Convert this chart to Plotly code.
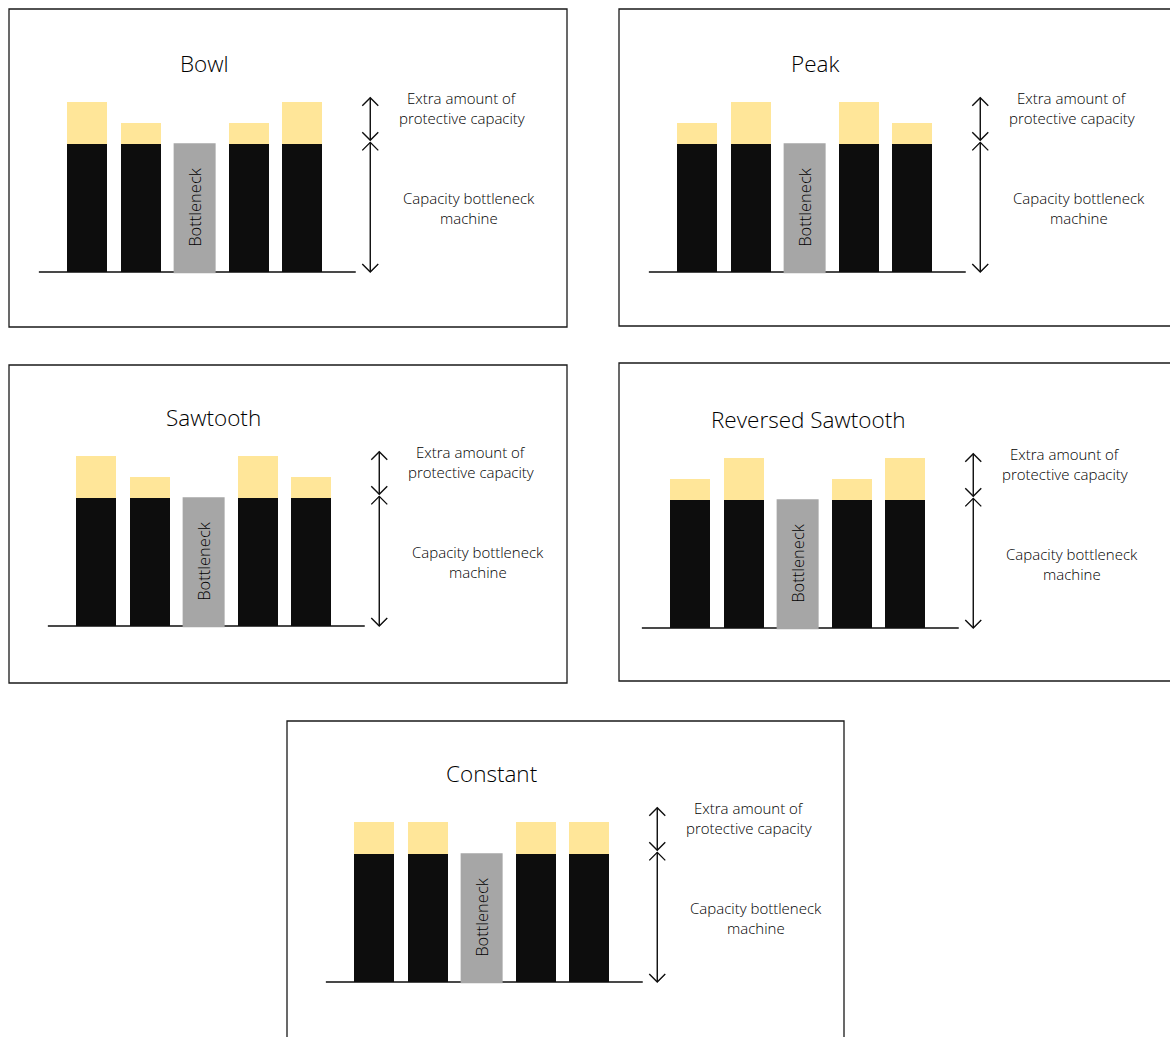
import plotly.graph_objects as go

# ---- data -------------------------------------------------------------
stations = ["Machine 1", "Machine 2", "Bottleneck", "Machine 4", "Machine 5"]
bottleneck_index = 2
bottleneck_capacity = 6.0

patterns = ["Bowl", "Peak", "Sawtooth", "Reversed Sawtooth", "Constant"]
extra_bowl = [2, 1, 0, 1, 2]
extra_peak = [1, 2, 0, 2, 1]
extra_sawtooth = [2, 1, 0, 2, 1]
extra_reversed_sawtooth = [1, 2, 0, 1, 2]
extra_constant = [1.5, 1.5, 0, 1.5, 1.5]
extras = [extra_bowl, extra_peak, extra_sawtooth, extra_reversed_sawtooth, extra_constant]

label_extra = ["Extra amount of", "protective capacity"]
label_capacity = ["Capacity bottleneck", "machine"]

# ---- page geometry (pixels) --------------------------------------------
W, H = 1170, 1037
PX_X = 53.75          # pixels per station slot
PX_Y = 21.25          # pixels per capacity unit
XR = (-0.9, 8.6)
YR = (-0.6, 11.0)
BAR_W = 40 / PX_X
LINE_GAP = 20 / PX_Y  # spacing between the two lines of a side label

# first-bar centre / baseline, and surrounding frame (l, t, r, b)
panels = [
    dict(c0=87, base=272, box=(9, 9, 567, 327)),
    dict(c0=697, base=272, box=(619, 9, 1177, 326)),
    dict(c0=96, base=626, box=(9, 365, 567, 683)),
    dict(c0=690, base=628, box=(619, 363, 1177, 681)),
    dict(c0=374, base=982, box=(287, 721, 844, 1039)),
]

BLACK = "#0d0d0d"
YELLOW = "#ffe699"
GREY = "#a6a6a6"
TEXT = "#000000"
FONT = "Open Sans"
WEIGHT = 350
SIZE_TITLE = 22.5
SIZE_SIDE = 15
SIZE_BAR = 16.5

positions = list(range(len(stations)))

fig = go.Figure()
shapes, annotations = [], []
layout_axes = {}


def label(text, x, y, xa, ya, size, angle=0):
    return dict(text=text, x=x, y=y, xref=xa, yref=ya, showarrow=False,
                textangle=angle, xanchor="center", yanchor="middle",
                font=dict(family=FONT, size=size, color=TEXT, weight=WEIGHT))


for i, (name, extra, p) in enumerate(zip(patterns, extras, panels), start=1):
    sfx = "" if i == 1 else str(i)
    xa, ya = "x" + sfx, "y" + sfx

    left = p["c0"] + XR[0] * PX_X
    right = p["c0"] + XR[1] * PX_X
    bottom = p["base"] - YR[0] * PX_Y
    top = p["base"] - YR[1] * PX_Y
    layout_axes["xaxis" + sfx] = dict(domain=[left / W, right / W], range=list(XR),
                                      visible=False, fixedrange=True, anchor=ya)
    layout_axes["yaxis" + sfx] = dict(domain=[1 - bottom / H, 1 - top / H], range=list(YR),
                                      visible=False, fixedrange=True, anchor=xa)

    others = [k for k in positions if k != bottleneck_index]
    cap = bottleneck_capacity

    # capacity of the non-bottleneck machines
    fig.add_trace(go.Bar(x=others, y=[cap] * len(others), width=BAR_W,
                         marker=dict(color=BLACK, line=dict(width=0)),
                         xaxis=xa, yaxis=ya, showlegend=False, hoverinfo="skip"))
    # protective capacity stacked on top
    fig.add_trace(go.Bar(x=others, y=[extra[k] for k in others], base=[cap] * len(others),
                         width=BAR_W, marker=dict(color=YELLOW, line=dict(width=0)),
                         xaxis=xa, yaxis=ya, showlegend=False, hoverinfo="skip"))
    # the bottleneck machine
    fig.add_trace(go.Bar(x=[bottleneck_index], y=[cap], width=BAR_W,
                         marker=dict(color=GREY, line=dict(color=GREY, width=2)),
                         xaxis=xa, yaxis=ya, showlegend=False, hoverinfo="skip"))

    # frame around the panel
    l, t, r, b = p["box"]
    shapes.append(dict(type="rect", xref="paper", yref="paper",
                       x0=l / W, x1=r / W, y0=1 - b / H, y1=1 - t / H,
                       line=dict(color="#1a1a1a", width=1.3), layer="below"))
    # baseline
    shapes.append(dict(type="line", xref=xa, yref=ya, x0=-0.9, x1=5.0, y0=0, y1=0,
                       line=dict(color=BLACK, width=1.5), layer="below"))

    # double-headed arrows
    ax = 5.27
    dx, dy = 8 / PX_X, 8 / PX_Y
    for y_lo, y_hi in [(cap + 0.2, cap + 2.2), (0.0, cap + 0.1)]:
        shapes.append(dict(type="line", xref=xa, yref=ya, x0=ax, x1=ax, y0=y_lo, y1=y_hi,
                           line=dict(color=BLACK, width=1.4)))
        shapes.append(dict(type="path", xref=xa, yref=ya,
                           path=f"M{ax - dx},{y_hi - dy} L{ax},{y_hi} L{ax + dx},{y_hi - dy}",
                           line=dict(color=BLACK, width=1.4)))
        shapes.append(dict(type="path", xref=xa, yref=ya,
                           path=f"M{ax - dx},{y_lo + dy} L{ax},{y_lo} L{ax + dx},{y_lo + dy}",
                           line=dict(color=BLACK, width=1.4)))

    # texts
    annotations.append(label(name, 2.19, 9.83, xa, ya, SIZE_TITLE))
    ye = cap + 1.72
    annotations.append(label(label_extra[0], 6.98, ye + LINE_GAP / 2, xa, ya, SIZE_SIDE))
    annotations.append(label(label_extra[1], 6.98, ye - LINE_GAP / 2, xa, ya, SIZE_SIDE))
    yc = cap / 2
    annotations.append(label(label_capacity[0], 7.1, yc + LINE_GAP / 2, xa, ya, SIZE_SIDE))
    annotations.append(label(label_capacity[1], 7.1, yc - LINE_GAP / 2, xa, ya, SIZE_SIDE))
    annotations.append(label(stations[bottleneck_index], bottleneck_index, cap / 2,
                             xa, ya, SIZE_BAR, angle=-90))

fig.update_layout(
    width=W, height=H,
    margin=dict(l=0, r=0, t=0, b=0),
    paper_bgcolor="white", plot_bgcolor="rgba(0,0,0,0)",
    barmode="overlay", bargap=0,
    shapes=shapes, annotations=annotations,
    showlegend=False,
    **layout_axes,
)

fig.write_html("out.html", config={"displayModeBar": False})
